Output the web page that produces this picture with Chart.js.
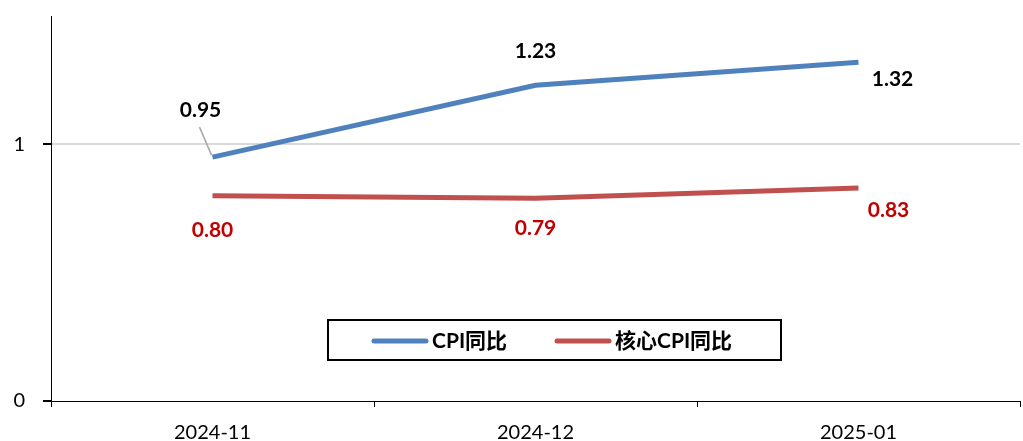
<!DOCTYPE html>
<html>
<head>
<meta charset="utf-8">
<script src="https://cdn.jsdelivr.net/npm/chart.js@4.4.1/dist/chart.umd.min.js"></script>
<style>
  html, body { margin: 0; padding: 0; background: #fff; }
  #wrap { width: 1023px; height: 441px; position: relative; }
</style>
</head>
<body>
<div id="wrap"><canvas id="cpiChart"></canvas></div>
<script>
// 数据
const months = ['2024-11', '2024-12', '2025-01'];
const cpiYoY = [0.95, 1.23, 1.32];
const coreCpiYoY = [0.80, 0.79, 0.83];
const yTicks = [0, 1];

const seriesNames = ['CPI同比', '核心CPI同比'];
const lineColors = ['#4f81bd', '#c0504d'];
const labelColors = ['#000000', '#c00000'];

// 标签偏移（像素）
const labelOffsets = [
    [[-12, -47], [0, -34], [34, 17]],
    [[0, 35], [0, 30], [30, 22]]
];

const labelFont = 'bold 21px Lato, "Noto Sans CJK SC", sans-serif';

const dataLabelPlugin = {
    id: 'dataLabels',
    afterDatasetsDraw(chart) {
        const ctx = chart.ctx;
        ctx.save();
        ctx.font = labelFont;
        ctx.textAlign = 'center';
        ctx.textBaseline = 'middle';
        chart.data.datasets.forEach((ds, i) => {
            const meta = chart.getDatasetMeta(i);
            meta.data.forEach((pt, j) => {
                const off = labelOffsets[i][j];
                const x = pt.x + off[0];
                const y = pt.y + off[1];
                // 引导线
                if (i === 0 && j === 0) {
                    ctx.strokeStyle = '#a6a6a6';
                    ctx.lineWidth = 1.5;
                    ctx.beginPath();
                    ctx.moveTo(x - 1, y + 17);
                    ctx.lineTo(pt.x - 1, pt.y - 2);
                    ctx.stroke();
                }
                ctx.fillStyle = labelColors[i];
                ctx.fillText(ds.data[j].toFixed(2), x, y);
            });
        });
        ctx.restore();
    }
};

const boxLegendPlugin = {
    id: 'boxLegend',
    afterDraw(chart) {
        const ctx = chart.ctx;
        const area = chart.chartArea;
        const bx = area.left + 277, by = area.top + 304, bw = 453, bh = 40;
        ctx.save();
        ctx.fillStyle = '#fff';
        ctx.fillRect(bx, by, bw, bh);
        ctx.strokeStyle = '#000';
        ctx.lineWidth = 2;
        ctx.strokeRect(bx, by, bw, bh);
        ctx.font = labelFont;
        ctx.textBaseline = 'middle';
        ctx.textAlign = 'left';
        const starts = [bx + 46, bx + 229];
        const cy = by + 21;
        seriesNames.forEach((name, i) => {
            ctx.strokeStyle = lineColors[i];
            ctx.lineWidth = 5;
            ctx.lineCap = 'round';
            ctx.beginPath();
            ctx.moveTo(starts[i], cy);
            ctx.lineTo(starts[i] + 52, cy);
            ctx.stroke();
            ctx.fillStyle = '#000';
            ctx.fillText(name, starts[i] + 58, cy);
        });
        ctx.restore();
    }
};

const ctx = document.getElementById('cpiChart').getContext('2d');
new Chart(ctx, {
    type: 'line',
    data: {
        labels: months,
        datasets: [
            {
                label: seriesNames[0],
                data: cpiYoY,
                borderColor: lineColors[0],
                backgroundColor: lineColors[0],
                borderWidth: 5,
                pointRadius: 0,
                tension: 0
            },
            {
                label: seriesNames[1],
                data: coreCpiYoY,
                borderColor: lineColors[1],
                backgroundColor: lineColors[1],
                borderWidth: 5,
                pointRadius: 0,
                tension: 0
            }
        ]
    },
    options: {
        responsive: true,
        maintainAspectRatio: false,
        animation: false,
        layout: { padding: { top: 16, right: 3, left: 0, bottom: 0 } },
        plugins: {
            legend: { display: false },
            tooltip: { enabled: false }
        },
        scales: {
            x: {
                offset: true,
                afterFit(axis) {
                    axis.height = 40;
                    axis.paddingLeft = 0;
                    axis.paddingRight = 0;
                },
                grid: {
                    offset: true,
                    drawOnChartArea: false,
                    color: '#000',
                    tickLength: 6
                },
                border: { color: '#000', width: 1 },
                ticks: {
                    color: '#000',
                    padding: 14,
                    font: { family: 'Lato, sans-serif', size: 20 }
                }
            },
            y: {
                min: 0,
                max: 1.5,
                afterBuildTicks(axis) {
                    axis.ticks = yTicks.map(v => ({ value: v }));
                },
                afterFit(axis) {
                    axis.width = 51;
                    axis.paddingTop = 0;
                    axis.paddingBottom = 0;
                },
                grid: {
                    color: ctx => ctx.tick && ctx.tick.value === 0 ? 'rgba(0,0,0,0)' : '#d9d9d9',
                    lineWidth: 2,
                    tickColor: '#000',
                    tickLength: 8
                },
                border: { color: '#000', width: 1 },
                ticks: {
                    color: '#000',
                    padding: 18,
                    font: { family: 'Lato, sans-serif', size: 20 }
                }
            }
        }
    },
    plugins: [dataLabelPlugin, boxLegendPlugin]
});
</script>
</body>
</html>
